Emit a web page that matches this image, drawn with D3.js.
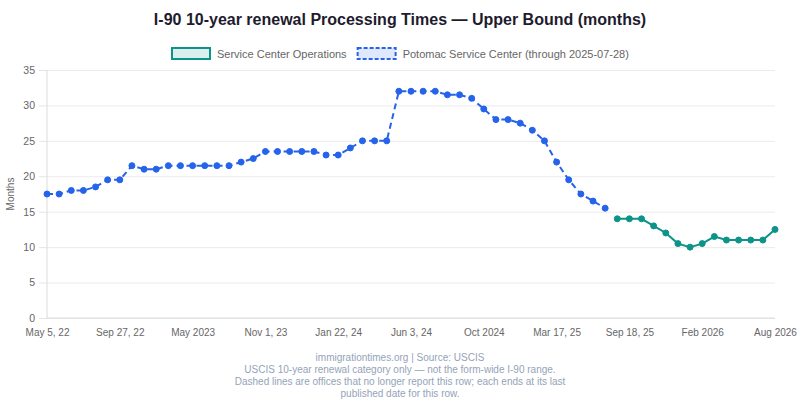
<!DOCTYPE html>
<html>
<head>
<meta charset="utf-8">
<script src="https://cdn.jsdelivr.net/npm/d3@7"></script>
<style>
  body { margin: 0; background: #fff; }
  svg { display: block; font-family: "Liberation Sans", Arial, Helvetica, sans-serif; }
</style>
</head>
<body>
<svg id="chart" width="800" height="400"></svg>
<script>
// x axis is a category axis, only every 6th label is printed
var tickLabels = ['May 5, 22', 'Sep 27, 22', 'May 2023', 'Nov 1, 23', 'Jan 22, 24', 'Jun 3, 24',
  'Oct 2024', 'Mar 17, 25', 'Sep 18, 25', 'Feb 2026', 'Aug 2026']
  , tickStep = 6
  , pointCount = 61

// Potomac Service Center, points 0..46
var potomac = [17.5, 17.5, 18, 18, 18.5, 19.5, 19.5, 21.5, 21, 21, 21.5, 21.5, 21.5, 21.5, 21.5, 21.5,
  22, 22.5, 23.5, 23.5, 23.5, 23.5, 23.5, 23, 23, 24, 25, 25, 25, 32, 32, 32, 32, 31.5, 31.5, 31,
  29.5, 28, 28, 27.5, 26.5, 25, 22, 19.5, 17.5, 16.5, 15.5]

// Service Center Operations, points 47..60
var operations = [14, 14, 14, 13, 12, 10.5, 10, 10.5, 11.5, 11, 11, 11, 11, 12.5]
  , operationsStart = 47

var series = [
  { name: 'Service Center Operations', color: '#0d9488', fill: 'rgba(13,148,136,0.15)', dash: null,
    values: operations.map(function(v, i) { return { i: operationsStart + i, v: v } }) },
  { name: 'Potomac Service Center (through 2025-07-28)', color: '#2563eb', fill: 'rgba(37,99,235,0.15)', dash: '6,4',
    values: potomac.map(function(v, i) { return { i: i, v: v } }) }
]

var svg = d3.select('svg#chart')
  , margin = { top: 70, right: 25, bottom: 82, left: 47 }
  , width = 800 - margin.left - margin.right
  , height = 400 - margin.top - margin.bottom

var x = d3.scaleLinear().domain([0, pointCount - 1]).range([0, width])
  , y = d3.scaleLinear().domain([0, 35]).range([height, 0])

svg.append('text')
  .attr('x', 400).attr('y', 25)
  .attr('text-anchor', 'middle')
  .attr('font-size', 16).attr('font-weight', 'bold')
  .attr('fill', '#1e1b2e')
  .text('I-90 10-year renewal Processing Times \u2014 Upper Bound (months)')

// legend, centred
var legend = svg.append('g').attr('font-size', 11).attr('fill', '#666')
var lx = 0
series.forEach(function(s) {
  legend.append('rect')
    .attr('x', lx + 1).attr('y', 48).attr('width', 38).attr('height', 11)
    .attr('fill', s.fill).attr('stroke', s.color).attr('stroke-width', 2)
    .attr('stroke-dasharray', s.dash ? '4,2' : null)
  var t = legend.append('text')
    .attr('x', lx + 46).attr('y', 58)
    .attr('fill', '#666')
    .text(s.name)
  lx += 46 + t.node().getComputedTextLength() + 10
})
legend.attr('transform', 'translate(' + Math.round(400 - (lx - 10) / 2) + ',0)')

var g = svg.append('g').attr('transform', 'translate(' + margin.left + ',' + margin.top + ')')

// grid
g.append('g')
  .call(d3.axisLeft(y).tickValues(d3.range(0, 36, 5)).tickSize(-width).tickFormat(''))
  .call(function(a) {
    a.select('.domain').remove()
    a.selectAll('line').attr('stroke', '#ebebeb')
  })

var yAxis = g.append('g')
  .call(d3.axisLeft(y).tickValues(d3.range(0, 36, 5)).tickSize(8).tickPadding(4))
yAxis.select('.domain').remove()
yAxis.selectAll('line').attr('stroke', '#e4e4e4')
yAxis.selectAll('text').attr('font-size', 10.5).attr('fill', '#666').attr('font-family', null)

var xAxis = g.append('g').attr('transform', 'translate(0,' + height + ')')
  .call(d3.axisBottom(x)
    .tickValues(d3.range(0, pointCount, tickStep))
    .tickFormat(function(d) { return tickLabels[d / tickStep] })
    .tickSize(0).tickPadding(11))
xAxis.select('.domain').remove()
xAxis.selectAll('text').attr('font-size', 10).attr('fill', '#666').attr('font-family', null)

g.append('line').attr('x1', 0).attr('x2', 0).attr('y1', 0).attr('y2', height).attr('stroke', '#dcdcdc')
g.append('line').attr('x1', 0).attr('x2', width).attr('y1', height).attr('y2', height).attr('stroke', '#dcdcdc')

svg.append('text')
  .attr('transform', 'translate(14,' + (margin.top + height / 2) + ') rotate(-90)')
  .attr('text-anchor', 'middle')
  .attr('font-size', 10).attr('fill', '#666')
  .text('Months')

var line = d3.line()
  .x(function(d) { return x(d.i) })
  .y(function(d) { return y(d.v) })

series.forEach(function(s) {
  g.append('path').datum(s.values)
    .attr('fill', 'none')
    .attr('stroke', s.color).attr('stroke-width', 2)
    .attr('stroke-dasharray', s.dash)
    .attr('d', line)
  g.selectAll(null).data(s.values)
    .enter().append('circle')
    .attr('cx', function(d) { return x(d.i) })
    .attr('cy', function(d) { return y(d.v) })
    .attr('r', 3)
    .attr('fill', s.color)
    .attr('stroke', s.color).attr('stroke-width', 1)
})

var notes = ['immigrationtimes.org | Source: USCIS',
  'USCIS 10-year renewal category only \u2014 not the form-wide I-90 range.',
  'Dashed lines are offices that no longer report this row; each ends at its last',
  'published date for this row.']
svg.append('g').selectAll('text').data(notes)
  .enter().append('text')
  .attr('x', 400).attr('y', function(d, i) { return 361 + i * 12 })
  .attr('text-anchor', 'middle')
  .attr('font-size', 10).attr('fill', '#94a3b8')
  .text(function(d) { return d })
</script>
</body>
</html>
